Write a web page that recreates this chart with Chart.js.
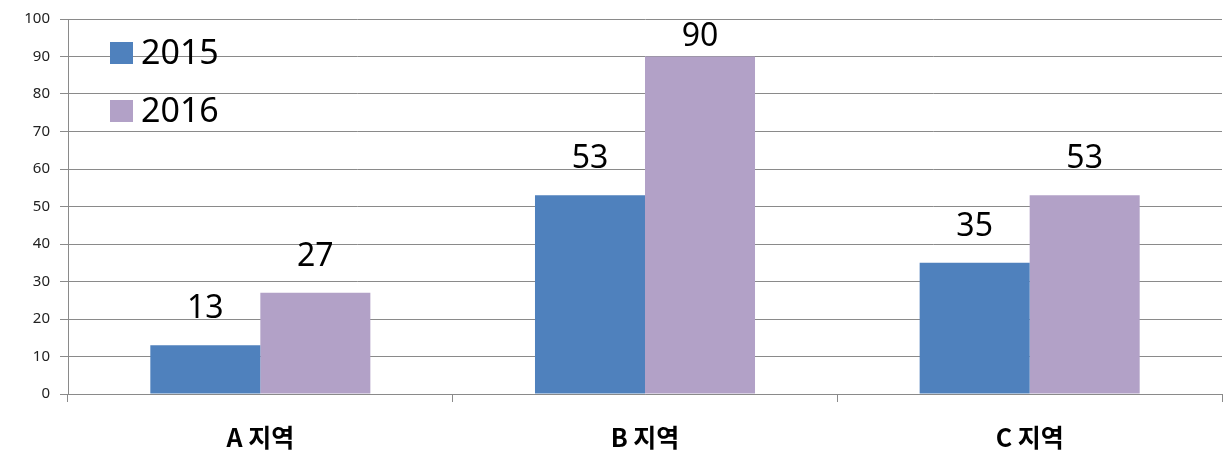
<!DOCTYPE html>
<html>
<head>
<meta charset="utf-8">
<script src="https://cdn.jsdelivr.net/npm/chart.js@4.4.1/dist/chart.umd.min.js"></script>
<style>
  html, body { margin: 0; padding: 0; background: #fff; }
  #wrap { width: 1225px; height: 463px; position: relative; }
</style>
</head>
<body>
<div id="wrap"><canvas id="chart"></canvas></div>
<script>
/* ── Datos ── */
const REGIONS = ['A 지역', 'B 지역', 'C 지역'];
const SERIES_2015 = [13, 53, 35];
const SERIES_2016 = [27, 90, 53];
const SERIES_NAMES = ['2015', '2016'];

const BLUE   = '#4F81BD';
const PURPLE = '#B2A1C7';
const GRID   = '#8a8a8a';
const NUM_FONT = '"Noto Sans", "Open Sans", sans-serif';

/* ── Etiquetas sobre las barras ── */
const valueLabels = {
  id: 'valueLabels',
  afterDatasetsDraw(chart) {
    const ctx = chart.ctx;
    const top = chart.chartArea.top;
    ctx.save();
    ctx.font = '32px ' + NUM_FONT;
    ctx.fillStyle = '#000';
    ctx.textAlign = 'center';
    ctx.textBaseline = 'bottom';
    chart.data.datasets.forEach((ds, i) => {
      chart.getDatasetMeta(i).data.forEach((bar, j) => {
        // como en Excel: la etiqueta no sale del área del gráfico
        const y = Math.max(bar.y - 20, top + 34);
        ctx.fillText(ds.data[j], bar.x, y);
      });
    });
    ctx.restore();
  },
};

/* ── Leyenda dentro del área ── */
const innerLegend = {
  id: 'innerLegend',
  afterDatasetsDraw(chart) {
    const ctx = chart.ctx;
    const a = chart.chartArea;
    ctx.save();
    ctx.font = '34px ' + NUM_FONT;
    ctx.textBaseline = 'middle';
    ctx.textAlign = 'left';
    chart.data.datasets.forEach((ds, i) => {
      const cy = a.top + 34 + i * 58;
      ctx.fillStyle = ds.backgroundColor;
      ctx.fillRect(a.left + 42, cy - 11, 23, 22);
      ctx.fillStyle = '#000';
      ctx.fillText(ds.label, a.left + 73, cy + 1);
    });
    ctx.restore();
  },
};

/* ── Gráfico ── */
function initBar() {
  new Chart(document.getElementById('chart'), {
    type: 'bar',
    data: {
      labels: REGIONS,
      datasets: [
        { label: SERIES_NAMES[0], data: SERIES_2015, backgroundColor: BLUE },
        { label: SERIES_NAMES[1], data: SERIES_2016, backgroundColor: PURPLE },
      ],
    },
    options: {
      responsive: true,
      maintainAspectRatio: false,
      animation: false,
      categoryPercentage: 0.572,
      barPercentage: 1,
      layout: { padding: { top: 8, right: 3, left: 0, bottom: 0 } },
      plugins: { legend: { display: false }, tooltip: { enabled: false } },
      scales: {
        x: {
          grid: { drawOnChartArea: false, drawTicks: true, tickLength: 8, color: GRID, offset: true },
          border: { color: GRID, width: 1 },
          ticks: { font: { size: 25, weight: 'bold', family: '"Noto Sans CJK KR", sans-serif' }, color: '#000', padding: 20 },
          afterFit: s => { s.height = 69; },
        },
        y: {
          min: 0,
          max: 100,
          ticks: { stepSize: 10, font: { size: 15, family: NUM_FONT }, color: '#222', padding: 10 },
          grid: { color: GRID, tickLength: 8 },
          border: { color: GRID, width: 1 },
          afterFit: s => { s.width = 68; },
        },
      },
    },
    plugins: [valueLabels, innerLegend],
  });
}

/* ── Init ── */
document.addEventListener('DOMContentLoaded', initBar);
</script>
</body>
</html>
